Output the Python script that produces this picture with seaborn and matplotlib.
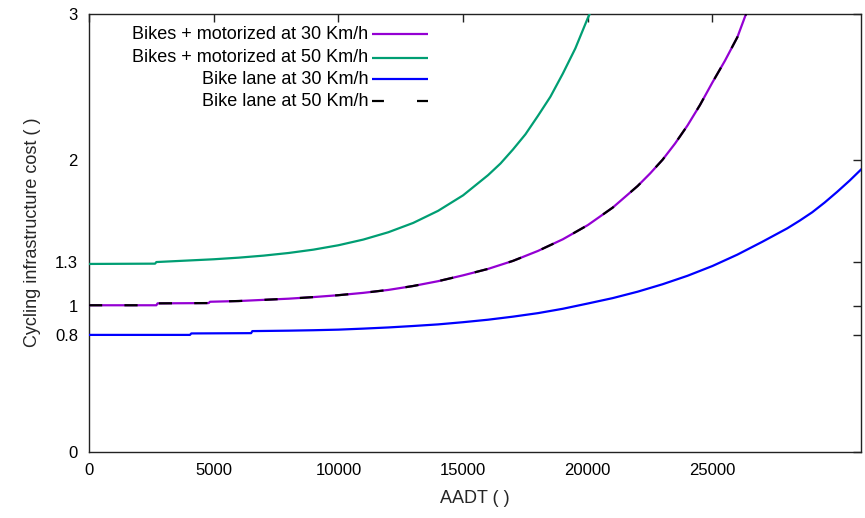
import matplotlib
matplotlib.use("Agg")
import matplotlib.pyplot as plt
import seaborn as sns
import pandas as pd

# ---- data ----
x_moto30 = [0, 2700, 2750, 4800, 4850, 6000, 7000, 8000, 9000, 10000, 11000, 12000, 13000,
            14000, 15000, 16000, 17000, 18000, 19000, 20000, 21000, 22000, 22500, 23000,
            23500, 24000, 24500, 25000, 25500, 26000, 26500]
y_moto30 = [1.003, 1.003, 1.016, 1.018, 1.027, 1.032, 1.040, 1.048, 1.059, 1.072, 1.088,
            1.108, 1.135, 1.168, 1.208, 1.252, 1.307, 1.375, 1.455, 1.552, 1.672, 1.820,
            1.906, 2.000, 2.111, 2.235, 2.375, 2.530, 2.678, 2.840, 3.070]

x_moto50 = [0, 2650, 2700, 5000, 6000, 7000, 8000, 9000, 10000, 11000, 12000, 13000, 14000,
            15000, 16000, 16500, 17000, 17500, 18000, 18500, 19000, 19500, 20000, 20500]
y_moto50 = [1.286, 1.288, 1.299, 1.318, 1.329, 1.343, 1.361, 1.384, 1.414, 1.453, 1.503,
            1.567, 1.650, 1.756, 1.894, 1.974, 2.070, 2.174, 2.300, 2.431, 2.590, 2.762,
            2.970, 3.150]

x_lane30 = [0, 4050, 4100, 6500, 6550, 8000, 9000, 10000, 11000, 12000, 13000, 14000, 15000,
            16000, 17000, 18000, 19000, 20000, 21000, 22000, 23000, 24000, 25000, 26000,
            27000, 28000, 28500, 29000, 29500, 30000, 30500, 31000]
y_lane30 = [0.800, 0.800, 0.810, 0.812, 0.826, 0.829, 0.832, 0.836, 0.843, 0.851, 0.861,
            0.872, 0.887, 0.904, 0.925, 0.949, 0.979, 1.015, 1.052, 1.096, 1.147, 1.205,
            1.272, 1.350, 1.438, 1.530, 1.583, 1.640, 1.707, 1.780, 1.857, 1.940]

x_lane50 = list(x_moto30)
y_lane50 = list(y_moto30)

labels = ["Bikes + motorized at 30 Km/h", "Bikes + motorized at 50 Km/h",
          "Bike lane at 30 Km/h", "Bike lane at 50 Km/h"]
colors = ["#9400D3", "#009E73", "#0000FF", "#000000"]

x_ticks = [0, 5000, 10000, 15000, 20000, 25000]
y_ticks = [0, 0.8, 1, 1.3, 2, 3]
y_ticklabels = ["0", "0.8", "1", "1.3", "2", "3"]

# ---- style ----
sns.set_theme(style="white")
plt.rcParams["font.family"] = ["Liberation Sans", "DejaVu Sans"]
plt.rcParams["lines.scale_dashes"] = False

fig = plt.figure(figsize=(8.65, 5.18), dpi=100)
ax = fig.add_axes([89 / 865, (518 - 451.7) / 518, 772 / 865, 438 / 518])

series = [(x_moto30, y_moto30), (x_moto50, y_moto50), (x_lane30, y_lane30), (x_lane50, y_lane50)]
for i, ((xs, ys), lab, col) in enumerate(zip(series, labels, colors)):
    df = pd.DataFrame({"x": xs, "y": ys})
    sns.lineplot(data=df, x="x", y="y", ax=ax, estimator=None, sort=False,
                 color=col, linewidth=1.6, zorder=3 + i)
ax.lines[-1].set_dashes([9.5, 16])

ax.set_xlim(0, 30955)
ax.set_ylim(0, 3)
ax.set_xticks(x_ticks)
ax.set_xticklabels([str(t) for t in x_ticks])
ax.set_yticks(y_ticks)
ax.set_yticklabels(y_ticklabels)
ax.tick_params(axis="both", direction="in", length=6, width=1, colors="#222222",
               labelsize=12, top=True, right=True, labelcolor="black")
ax.tick_params(axis="x", pad=8)
ax.tick_params(axis="y", pad=8)
for s in ax.spines.values():
    s.set_color("#222222")
    s.set_linewidth(1)
    s.set_visible(True)

ax.set_xlabel("AADT ( )", fontsize=13, labelpad=9)
ax.set_ylabel("Cycling infrastructure cost ( )", fontsize=13, labelpad=10)

# ---- legend (gnuplot style: right-aligned text, sample to the right) ----
row_y = [0.953, 0.899, 0.850, 0.800]
for yy, lab, col, ls in zip(row_y, labels, colors, ["-", "-", "-", "--"]):
    ax.text(0.3614, yy, lab, transform=ax.transAxes, ha="right", va="center",
            fontsize=13, color="black")
    ln, = ax.plot([0.367, 0.439], [yy, yy], transform=ax.transAxes, color=col,
                  linewidth=1.6, solid_capstyle="butt", clip_on=False)
    if ls == "--":
        ln.set_dashes([8.6, 23.8])

fig.savefig("out.png", dpi=100)
